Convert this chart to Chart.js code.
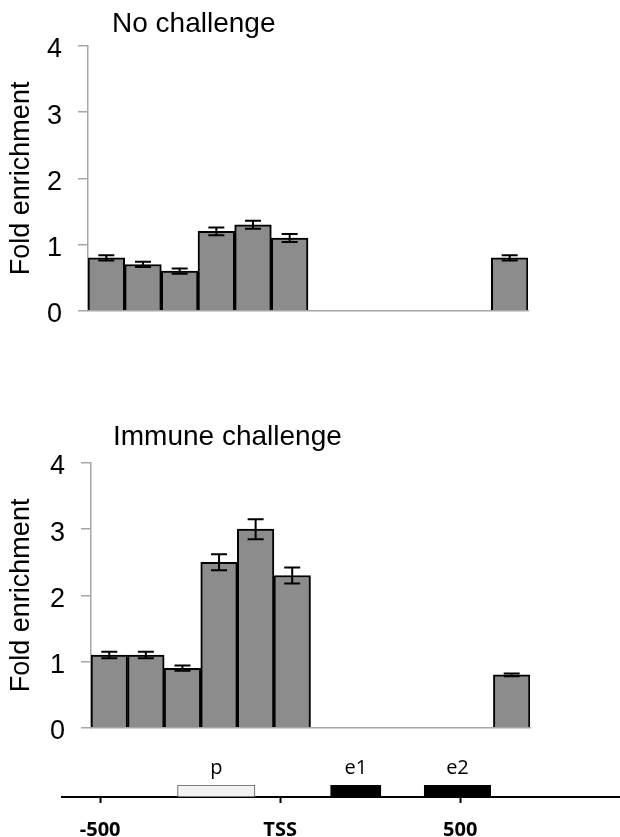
<!DOCTYPE html>
<html>
<head>
<meta charset="utf-8">
<script src="https://cdn.jsdelivr.net/npm/chart.js@4.4.0/dist/chart.umd.min.js"></script>
<style>
  body { margin: 0; background: #fff; width: 620px; height: 837px; position: relative; overflow: hidden; }
  canvas { position: absolute; left: 0; }
</style>
</head>
<body>
<canvas id="noChallenge" width="620" height="343" style="top:0"></canvas>
<canvas id="immuneChallenge" width="620" height="350" style="top:410px"></canvas>
<canvas id="geneMap" width="620" height="92" style="top:745px"></canvas>
<script>
// amplicon slots along the locus (7-11 have no data)
const slots = ["1", "2", "3", "4", "5", "6", "7", "8", "9", "10", "11", "12"];
const noChallenge = [0.8, 0.7, 0.6, 1.2, 1.3, 1.1, null, null, null, null, null, 0.8];
const noChallengeErr = [0.04, 0.04, 0.04, 0.06, 0.06, 0.06, null, null, null, null, null, 0.04];
const immune = [1.1, 1.1, 0.9, 2.5, 3.0, 2.3, null, null, null, null, null, 0.8];
const immuneErr = [0.05, 0.05, 0.04, 0.12, 0.15, 0.12, null, null, null, null, null, 0.02];
const yTicks = [0, 1, 2, 3, 4];

// gene map (bp relative to TSS)
const geneTicks = [-500, 0, 500];
const geneTickLabels = ["-500", "TSS", "500"];
const elementNames = ["p", "e1", "e2"];
const elementSpans = [[-285, -70], [140, 280], [400, 585]];

const FONT = "'Liberation Sans', Arial, sans-serif";

const errorBars = {
  id: "errorBars",
  afterDatasetsDraw(chart) {
    const { ctx, scales: { x, y } } = chart;
    const ds = chart.data.datasets[0];
    if (!ds.errors) return;
    ctx.save();
    ctx.strokeStyle = "#000";
    ctx.lineWidth = 2;
    ds.errors.forEach((err, i) => {
      if (err == null || ds.data[i] == null) return;
      const cx = x.getPixelForValue(i);
      const top = y.getPixelForValue(ds.data[i] + err);
      const bot = y.getPixelForValue(ds.data[i] - err);
      ctx.beginPath();
      ctx.moveTo(cx, top); ctx.lineTo(cx, bot);
      ctx.moveTo(cx - 8, top); ctx.lineTo(cx + 8, top);
      ctx.moveTo(cx - 8, bot); ctx.lineTo(cx + 8, bot);
      ctx.stroke();
    });
    ctx.restore();
  }
};

const panelTitle = {
  id: "panelTitle",
  afterDraw(chart, args, opts) {
    if (!opts.text) return;
    const ctx = chart.ctx;
    ctx.save();
    ctx.font = "28px " + FONT;
    ctx.fillStyle = "#000";
    ctx.textBaseline = "middle";
    ctx.textAlign = "left";
    ctx.fillText(opts.text, opts.x, opts.y);
    ctx.restore();
  }
};

function makeBarChart(id, title, values, errors, axisWidth, pad, titleX, titleY) {
  return new Chart(document.getElementById(id), {
    type: "bar",
    data: {
      labels: slots,
      datasets: [{
        data: values,
        errors: errors,
        backgroundColor: "#8c8c8c",
        borderColor: "#000",
        borderWidth: 2,
        barPercentage: 1,
        categoryPercentage: 1
      }]
    },
    options: {
      responsive: false,
      animation: false,
      layout: { padding: pad },
      plugins: {
        legend: { display: false },
        tooltip: { enabled: false },
        panelTitle: { text: title, x: titleX, y: titleY }
      },
      scales: {
        x: {
          grid: { display: false },
          ticks: { display: false },
          border: { color: "#a6a6a6", width: 1.5 },
          afterFit: s => { s.height = 0; }
        },
        y: {
          min: 0,
          max: 4,
          afterBuildTicks: s => { s.ticks = yTicks.map(v => ({ value: v })); },
          ticks: { color: "#000", font: { family: FONT, size: 27 }, padding: 16, labelOffset: 4 },
          grid: { drawOnChartArea: false, tickLength: 10, color: "#a6a6a6", lineWidth: 1.5 },
          border: { color: "#a6a6a6", width: 1.5 },
          title: {
            display: true,
            text: "Fold enrichment",
            color: "#000",
            font: { family: FONT, size: 27 },
            padding: { top: 5, bottom: 0 }
          },
          afterFit: s => { s.width = axisWidth; }
        }
      }
    },
    plugins: [errorBars, panelTitle]
  });
}

makeBarChart("noChallenge", "No challenge", noChallenge, noChallengeErr, 88,
  { top: 46, right: 92, bottom: 0, left: 0 }, 112, 24);
makeBarChart("immuneChallenge", "Immune challenge", immune, immuneErr, 91,
  { top: 53, right: 90, bottom: 0, left: 0 }, 113, 27);

const elementLabels = {
  id: "elementLabels",
  afterDraw(chart) {
    const { ctx, scales: { x } } = chart;
    ctx.save();
    ctx.font = "20px 'Open Sans', sans-serif";
    ctx.fillStyle = "#000";
    ctx.textAlign = "center";
    ctx.textBaseline = "middle";
    elementSpans.forEach((span, i) => {
      ctx.fillText(elementNames[i], x.getPixelForValue((span[0] + span[1]) / 2), chart.chartArea.top - 17);
    });
    ctx.restore();
  }
};

new Chart(document.getElementById("geneMap"), {
  type: "bar",
  data: {
    labels: ["locus"],
    datasets: [{
      data: elementSpans.map(s => ({ x: s, y: "locus" })),
      backgroundColor: ["#f2f2f2", "#000", "#000"],
      borderColor: ["#555", "#000", "#000"],
      borderWidth: 1,
      borderSkipped: false,
      barPercentage: 1,
      categoryPercentage: 1
    }]
  },
  options: {
    indexAxis: "y",
    responsive: false,
    animation: false,
    layout: { padding: { top: 40, right: 0, bottom: 0, left: 62 } },
    plugins: { legend: { display: false }, tooltip: { enabled: false } },
    scales: {
      x: {
        type: "linear",
        min: -606,
        max: 944,
        afterBuildTicks: s => { s.ticks = geneTicks.map(v => ({ value: v })); },
        ticks: {
          callback: (v, i) => geneTickLabels[i],
          color: "#000",
          font: { family: "'Open Sans', sans-serif", weight: "bold", size: 20 },
          padding: 15,
          maxRotation: 0,
          autoSkip: false
        },
        grid: { drawOnChartArea: false, tickLength: 6, tickColor: "#000", tickWidth: 2 },
        border: { color: "#000", width: 2 },
        afterFit: s => { s.height = 40; }
      },
      y: { display: false }
    }
  },
  plugins: [elementLabels]
});
</script>
</body>
</html>
